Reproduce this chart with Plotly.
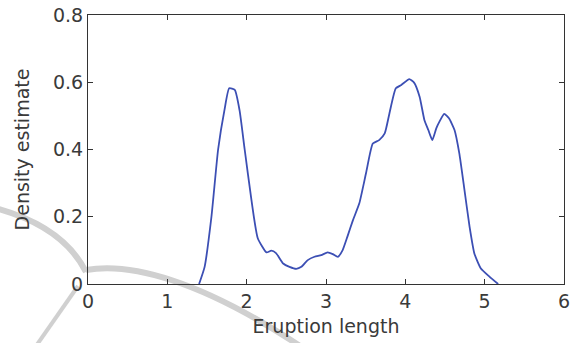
import plotly.graph_objects as go

# Density estimate
eruption_length = [1.40, 1.47, 1.556, 1.64, 1.72, 1.78, 1.85, 1.91, 1.975, 2.06, 2.14,
                   2.25, 2.31, 2.37, 2.46, 2.54, 2.625, 2.69, 2.77, 2.855, 2.94, 3.02,
                   3.085, 3.15, 3.21, 3.27, 3.34, 3.42, 3.505, 3.59, 3.67, 3.74, 3.80,
                   3.88, 3.95, 4.05, 4.11, 4.18, 4.24, 4.29, 4.34, 4.39, 4.43, 4.49,
                   4.55, 4.62, 4.68, 4.74, 4.81, 4.87, 4.95, 5.06, 5.17]
density = [0.0, 0.051, 0.20, 0.40, 0.517, 0.582, 0.577, 0.517, 0.40, 0.25, 0.136,
           0.094, 0.099, 0.092, 0.061, 0.051, 0.045, 0.051, 0.071, 0.081, 0.086, 0.094,
           0.089, 0.081, 0.101, 0.141, 0.19, 0.24, 0.33, 0.418, 0.428, 0.448, 0.508,
           0.582, 0.592, 0.609, 0.599, 0.557, 0.488, 0.458, 0.428, 0.463, 0.483, 0.506,
           0.493, 0.458, 0.389, 0.289, 0.17, 0.091, 0.047, 0.022, 0.0]

x_ticks = [0, 1, 2, 3, 4, 5, 6]
y_ticks = [0, 0.2, 0.4, 0.6, 0.8]
y_tick_text = ["0", "0.2", "0.4", "0.6", "0.8"]

W, H = 575, 343
ML, MR, MT, MB = 88, 11, 15, 59


def px(X):
    return (X - ML) / (W - ML - MR)


def py(Y):
    return (H - MB - Y) / (H - MT - MB)


def path(cmds):
    out = []
    for c in cmds:
        if isinstance(c, str):
            out.append(c)
        else:
            out.append(f"{px(c[0]):.4f},{py(c[1]):.4f}")
    return " ".join(out)


font = dict(family="DejaVu Sans", size=19, color="#3a3a3a")
axcol = "#333333"

fig = go.Figure()
fig.add_trace(go.Scatter(
    x=eruption_length, y=density, mode="lines",
    line=dict(color="#3c4fb4", width=1.8, shape="spline", smoothing=0.5),
    hoverinfo="skip", showlegend=False,
))

swoosh = dict(color="#d0d0d0", width=6)
shapes = [
    dict(type="path", xref="paper", yref="paper", layer="below", line=swoosh,
         path=path(["M", (-5, 208), "C", (40, 220), (70, 240), (86, 272)])),
    dict(type="path", xref="paper", yref="paper", layer="below", line=swoosh,
         path=path(["M", (86, 270), "C", (130, 262), (200, 280), (300, 346)])),
    dict(type="path", xref="paper", yref="paper", layer="below",
         line=dict(color="#d0d0d0", width=4),
         path=path(["M", (78, 286), "L", (36, 346)])),
]

fig.update_layout(
    width=W, height=H,
    margin=dict(l=ML, r=MR, t=MT, b=MB),
    paper_bgcolor="white", plot_bgcolor="white",
    font=font,
    shapes=shapes,
)
fig.update_xaxes(
    range=[0, 6], tickvals=x_ticks, ticktext=[str(v) for v in x_ticks],
    showline=True, linecolor=axcol, linewidth=1, mirror="ticks",
    ticks="inside", ticklen=5, tickcolor=axcol, tickwidth=1,
    showgrid=False, zeroline=False, tickfont=font, automargin=False,
    ticklabeloverflow="allow",
    title=dict(text="Eruption length", font=font, standoff=8),
)
fig.update_yaxes(
    range=[0, 0.8], tickvals=y_ticks, ticktext=y_tick_text,
    showline=True, linecolor=axcol, linewidth=1, mirror="ticks",
    ticks="inside", ticklen=5, tickcolor=axcol, tickwidth=1,
    showgrid=False, zeroline=False, tickfont=font, automargin=False,
    ticklabeloverflow="allow",
    title=dict(text="Density estimate", font=font, standoff=18),
)

fig.write_html(
    "out.html",
    config={"displayModeBar": False},
    post_script="document.body.style.margin='0';document.body.style.overflow='hidden';",
)
